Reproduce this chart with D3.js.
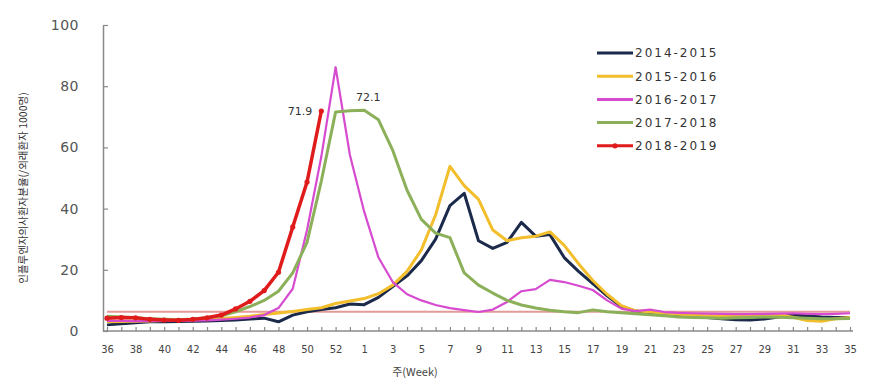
<!DOCTYPE html>
<html>
<head>
<meta charset="utf-8">
<script src="https://cdn.jsdelivr.net/npm/d3@7"></script>
<style>
  body { margin: 0; background: #fff; }
  svg { display: block; }
</style>
</head>
<body>
<div class="chart"></div>
<script>
// weekly ILI rate per 1,000 outpatients, season week 36 -> week 35
const weeks = ['36', '37', '38', '39', '40', '41', '42', '43', '44', '45', '46', '47', '48', '49', '50', '51', '52', '53',
  '1', '2', '3', '4', '5', '6', '7', '8', '9', '10', '11', '12', '13', '14', '15', '16', '17', '18', '19', '20',
  '21', '22', '23', '24', '25', '26', '27', '28', '29', '30', '31', '32', '33', '34', '35'];

const seasons = ['2014-2015', '2015-2016', '2016-2017', '2017-2018', '2018-2019'];
const colors = ['#1b2a4a', '#f2be2c', '#d64bd0', '#8cb05a', '#e01b1b'];

const s1415 = [2.0, 2.4, 2.7, 3.0, 3.0, 3.1, 3.2, 3.3, 3.4, 3.6, 3.9, 4.2, 3.0, 5.2, 6.3, 7.0, 7.6, 8.8,
  8.6, 11.0, 14.5, 18.0, 23.0, 30.0, 41.0, 45.0, 29.5, 27.0, 29.0, 35.5, 31.0, 31.5, 24.0, 19.5, 15.5, 11.5, 8.0, 6.5,
  6.0, 5.6, 5.2, 4.8, 4.4, 4.0, 3.7, 3.6, 3.9, 4.6, 5.2, 5.0, 4.6, 4.4, 4.3];
const s1516 = [3.0, 3.1, 3.2, 3.3, 3.4, 3.5, 3.7, 3.9, 4.1, 4.4, 4.8, 5.4, 5.9, 6.4, 7.0, 7.6, 9.0, 9.8,
  10.6, 12.2, 15.0, 19.5, 26.5, 38.0, 53.8, 47.5, 43.0, 33.0, 29.5, 30.5, 31.0, 32.4, 28.0, 22.0, 16.5, 12.0, 8.3, 6.6,
  6.2, 5.8, 5.5, 5.2, 5.0, 4.8, 4.7, 4.9, 5.2, 5.4, 4.5, 3.4, 3.2, 4.0, 4.4];
const s1617 = [3.3, 3.3, 3.2, 3.2, 3.3, 3.3, 3.4, 3.5, 3.7, 4.0, 4.4, 5.2, 7.5, 13.8, 33.0, 57.0, 86.2, 57.5,
  39.0, 24.0, 16.0, 12.0, 10.0, 8.5, 7.5, 6.8, 6.2, 7.0, 9.5, 13.0, 13.7, 16.7, 16.0, 14.8, 13.4, 10.0, 7.3, 6.5,
  7.0, 6.2, 5.9, 5.8, 5.7, 5.6, 5.5, 5.5, 5.6, 5.7, 5.8, 5.6, 5.5, 5.6, 5.8];
const s1718 = [4.8, 4.6, 4.3, 4.0, 3.8, 3.7, 3.9, 4.3, 5.0, 6.3, 8.0, 10.0, 13.0, 19.0, 29.0, 49.0, 71.6, 72.0,
  72.1, 69.0, 59.0, 46.0, 36.5, 32.0, 30.5, 19.0, 15.0, 12.4, 10.0, 8.5, 7.5, 6.8, 6.3, 6.0, 6.9, 6.3,
  6.0, 5.6, 5.3, 5.0, 4.6, 4.4, 4.3, 4.2, 4.3, 4.4, 4.6, 4.5, 4.3, 4.2, 4.0, 4.0, 4.1];
const s1819 = [4.2, 4.4, 4.3, 3.8, 3.6, 3.5, 3.8, 4.3, 5.2, 7.2, 9.7, 13.2, 19.2, 34.0, 48.7, 71.9];

const threshold = 6.3;
const yTicks = [0, 20, 40, 60, 80, 100];
// value labels: [season index, week, text]
const peakLabels = [[4, '51', '71.9'], [3, '1', '72.1']];

const width = 889;
const height = 385;

const svg = d3.select('.chart')
  .append('svg')
    .attr('width', width)
    .attr('height', height)
    .style('background', '#fff');

const xScale = d3.scalePoint()
  .domain(weeks)
  .range([107, 850]);

const yScale = d3.scaleLinear()
  .domain([0, 100])
  .range([331, 25]);

const axisColor = '#8a8a8a';

// y-axis
const yAxis = svg.append('g')
  .attr('transform', 'translate(103, 0)')
  .call(d3.axisLeft(yScale).tickValues(yTicks).tickSizeInner(-5).tickSizeOuter(0).tickPadding(24));
yAxis.select('.domain').attr('stroke', axisColor).attr('stroke-width', 1.5);
yAxis.selectAll('.tick line').attr('stroke', axisColor).attr('stroke-width', 1.2);
yAxis.selectAll('.tick text')
  .attr('fill', '#555')
  .style('font-family', 'DejaVu Sans')
  .style('font-size', '14px')
  .style('letter-spacing', '0.5px');

// x-axis
const xAxis = svg.append('g')
  .attr('transform', 'translate(0, 331)')
  .call(d3.axisBottom(xScale)
    .tickSizeInner(-4).tickSizeOuter(0).tickPadding(15)
    .tickFormat((d, i) => (i % 2 === 0 ? d : '')));
xAxis.select('.domain').remove();
xAxis.selectAll('.tick line').attr('stroke', axisColor).attr('stroke-width', 1.2);
xAxis.selectAll('.tick text')
  .attr('fill', '#444')
  .style('font-family', 'DejaVu Sans')
  .style('font-size', '10px');
xAxis.append('line')
  .attr('x1', 103).attr('x2', 853)
  .attr('stroke', axisColor).attr('stroke-width', 1.5);

// axis titles
svg.append('text')
  .attr('transform', 'translate(24, 188) rotate(-90)')
  .attr('text-anchor', 'middle')
  .attr('dominant-baseline', 'middle')
  .style('font-family', 'Noto Sans CJK KR')
  .style('font-size', '10.5px')
  .attr('fill', '#333')
  .text('인플루엔자의사환자분율(/외래환자 1000명)');

svg.append('text')
  .attr('x', 415).attr('y', 376)
  .attr('text-anchor', 'middle')
  .style('font-family', 'Noto Sans CJK KR')
  .style('font-size', '11px')
  .attr('fill', '#444')
  .text('주(Week)');

// epidemic threshold
svg.append('line')
  .attr('x1', xScale(weeks[0])).attr('x2', xScale(weeks[weeks.length - 1]))
  .attr('y1', yScale(threshold)).attr('y2', yScale(threshold))
  .attr('stroke', '#e39a98')
  .attr('stroke-width', 2);

// lines
const data = [s1415, s1516, s1617, s1718, s1819].map((values, i) => ({
  name: seasons[i],
  color: colors[i],
  values: values.map((v, j) => ({ week: weeks[j], value: v }))
}));

const drawLine = d3.line()
  .x(d => xScale(d.week))
  .y(d => yScale(d.value));

svg.selectAll('.line')
  .data(data)
  .enter()
  .append('path')
  .attr('class', 'line')
  .attr('d', d => drawLine(d.values))
  .style('stroke', d => d.color)
  .style('stroke-width', (d, i) => (i === 2 ? 2.2 : i === 4 ? 3.5 : 3))
  .style('stroke-linejoin', 'round')
  .style('fill', 'none');

// markers on current season
svg.selectAll('.dot')
  .data(data[4].values)
  .enter()
  .append('circle')
  .attr('class', 'dot')
  .attr('cx', d => xScale(d.week))
  .attr('cy', d => yScale(d.value))
  .attr('r', 2.6)
  .attr('fill', colors[4]);

// peak labels
svg.selectAll('.peak')
  .data(peakLabels)
  .enter()
  .append('text')
  .attr('class', 'peak')
  .attr('x', d => xScale(d[1]) + (d[0] === 4 ? -9 : 4))
  .attr('y', d => yScale(data[d[0]].values[weeks.indexOf(d[1])].value) - (d[0] === 4 ? -4 : 9))
  .attr('text-anchor', d => (d[0] === 4 ? 'end' : 'middle'))
  .style('font-family', 'DejaVu Sans')
  .style('font-size', '11px')
  .attr('fill', '#333')
  .text(d => d[2]);

// legend
const legend = svg.selectAll('.legend')
  .data(data)
  .enter()
  .append('g')
  .attr('class', 'legend')
  .attr('transform', (d, i) => `translate(597, ${53 + i * 23.2})`);

legend.append('line')
  .attr('x1', 0).attr('x2', 36)
  .attr('stroke', d => d.color)
  .attr('stroke-width', 3);

legend.filter((d, i) => i === 4)
  .append('circle')
  .attr('cx', 18).attr('r', 2.6)
  .attr('fill', colors[4]);

legend.append('text')
  .attr('x', 38)
  .attr('dy', '0.36em')
  .style('font-family', 'DejaVu Sans')
  .style('font-size', '12px')
  .style('letter-spacing', '2px')
  .attr('fill', '#333')
  .text(d => d.name);
</script>
</body>
</html>
